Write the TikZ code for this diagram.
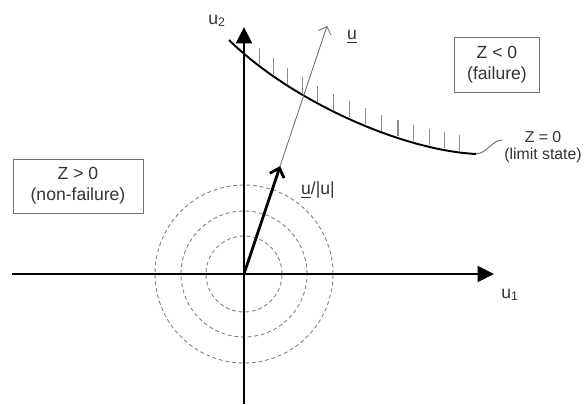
\documentclass[tikz,border=0pt]{standalone}
\usepackage{fontspec}
\setmainfont{Liberation Sans}
\usepackage{tikz}
\usetikzlibrary{arrows.meta,positioning,calc}

\begin{document}
\begin{tikzpicture}[
    x=0.02cm, y=-0.02cm,
    txt/.style={font=\normalsize, text=black!80, inner sep=1pt},
    region/.style={draw=black!55, line width=0.5pt, align=center, font=\normalsize, text=black!80, inner sep=2pt},
    axis/.style={-{Triangle[length=3.3mm,width=3.2mm]}, line width=1.2pt},
    ring/.style={draw=black!50, line width=0.5pt, dash pattern=on 2.2pt off 1.6pt},
    hatch/.style={draw=black!45, line width=0.6pt},
    leader/.style={draw=black!60, line width=0.5pt},
    dirvec/.style={-{Straight Barb[length=1.3mm,width=2.6mm]}, draw=black!55, line width=0.5pt},
    unitvec/.style={-{Straight Barb[length=1.6mm,width=3mm]}, line width=1.6pt}
]
    \useasboundingbox (0,0) rectangle (585,405);

    % origin and axis ends
    \coordinate (O) at (244,274);
    \coordinate (xl) at (12,274);
    \coordinate (xr) at (494,274);
    \coordinate (yb) at (244,404);
    \coordinate (yt) at (244,27);

    % standard normal contours
    \foreach \r in {0.76,1.26,1.78}
        \draw[ring] (O) circle[radius=\r cm];

    % axes
    \draw[axis] (xl) -- (xr);
    \draw[axis] (yb) -- (yt);
    \node[txt] (u1) at (510,295) {u\textsubscript{1}};
    \node[txt] (u2) at (217,21) {u\textsubscript{2}};

    % limit state curve
    \coordinate (A) at (229,40);
    \coordinate (B) at (476,154);
    \draw[line width=1.1pt] (A) .. controls (290,100) and (400,150) .. (B);
    \foreach \k [evaluate=\k as \t using 0.15+0.06*\k] in {0,...,13} {
        \path (A) .. controls (290,100) and (400,150) .. (B) coordinate[pos=\t] (h);
        \draw[hatch] ([yshift=1pt]h) -- ++(0,-16);
    }

    % labels and regions
    \node[txt, align=center, font=\small] (lim) at (543,147) {Z = 0\\[-1pt](limit state)};
    \draw[leader] (B) to[out=5,in=185] ([yshift=4pt]lim.west);
    \node[region, minimum width=1.7cm, minimum height=1.1cm] (fail) at (497,65) {Z {\textless} 0\\(failure)};
    \node[region, minimum width=2.6cm, minimum height=1.08cm] (safe) at (78,186) {Z {\textgreater} 0\\(non-failure)};

    % direction vectors
    \coordinate (U) at (327,26);
    \draw[dirvec] (O) -- (U);
    \draw[unitvec] (O) -- ($(O)!0.435!(U)$);
    \node[txt] (ulab) at (352,37) {\underline{u}};
    \node[txt] (unorm) at (318,190) {\underline{u}/|u|};
\end{tikzpicture}
\end{document}
